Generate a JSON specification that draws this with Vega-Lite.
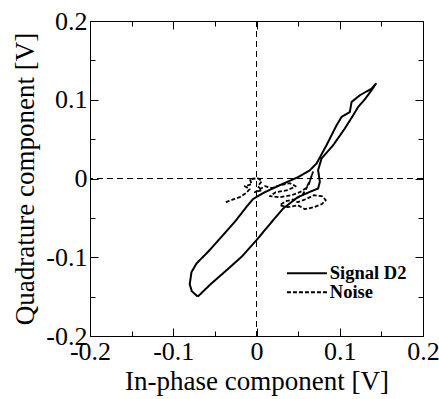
{
  "$schema": "https://vega.github.io/schema/vega-lite/v6.json",
  "width": 333,
  "height": 315,
  "autosize": {"type": "none"},
  "padding": {"left": 90, "top": 21, "right": 16, "bottom": 63},
  "background": "white",
  "view": {"stroke": "black", "strokeWidth": 1, "fill": null},
  "config": {
    "view": {"stroke": "black", "strokeWidth": 1},
    "font": "Liberation Serif",
    "axis": {
      "domain": false,
      "grid": false,
      "ticks": true,
      "tickSize": 8,
      "tickColor": "black",
      "tickWidth": 1,
      "labelFont": "Liberation Serif",
      "labelFontSize": 26,
      "labelColor": "black",
      "labelOverlap": false,
      "labelFlush": false,
      "labelBound": false,
      "titleFont": "Liberation Serif",
      "titleFontSize": 27,
      "titleFontWeight": "normal",
      "titleColor": "black"
    }
  },
  "datasets": {
    "curves": [
      {"series": "Signal D2", "i": 0, "x": -0.0706, "y": -0.150},
      {"series": "Signal D2", "i": 1, "x": -0.0778, "y": -0.1430},
      {"series": "Signal D2", "i": 2, "x": -0.0802, "y": -0.1341},
      {"series": "Signal D2", "i": 3, "x": -0.0781, "y": -0.1189},
      {"series": "Signal D2", "i": 4, "x": -0.0721, "y": -0.1079},
      {"series": "Signal D2", "i": 5, "x": -0.0582, "y": -0.0931},
      {"series": "Signal D2", "i": 6, "x": -0.0421, "y": -0.0741},
      {"series": "Signal D2", "i": 7, "x": -0.0261, "y": -0.0551},
      {"series": "Signal D2", "i": 8, "x": -0.0120, "y": -0.0360},
      {"series": "Signal D2", "i": 9, "x": -0.0044, "y": -0.0263},
      {"series": "Signal D2", "i": 10, "x": 0.0100, "y": -0.0174},
      {"series": "Signal D2", "i": 11, "x": 0.0280, "y": -0.0085},
      {"series": "Signal D2", "i": 12, "x": 0.0496, "y": 0.0016},
      {"series": "Signal D2", "i": 13, "x": 0.0641, "y": 0.0105},
      {"series": "Signal D2", "i": 14, "x": 0.0721, "y": 0.0190},
      {"series": "Signal D2", "i": 15, "x": 0.0841, "y": 0.0423},
      {"series": "Signal D2", "i": 16, "x": 0.0962, "y": 0.0676},
      {"series": "Signal D2", "i": 17, "x": 0.1022, "y": 0.0782},
      {"series": "Signal D2", "i": 18, "x": 0.1121, "y": 0.0845},
      {"series": "Signal D2", "i": 19, "x": 0.1142, "y": 0.0972},
      {"series": "Signal D2", "i": 20, "x": 0.1242, "y": 0.1057},
      {"series": "Signal D2", "i": 21, "x": 0.1382, "y": 0.1142},
      {"series": "Signal D2", "i": 22, "x": 0.1434, "y": 0.1203},
      {"series": "Signal D2", "i": 23, "x": 0.1382, "y": 0.1121},
      {"series": "Signal D2", "i": 24, "x": 0.1302, "y": 0.1006},
      {"series": "Signal D2", "i": 25, "x": 0.1221, "y": 0.0909},
      {"series": "Signal D2", "i": 26, "x": 0.1161, "y": 0.0803},
      {"series": "Signal D2", "i": 27, "x": 0.1061, "y": 0.0635},
      {"series": "Signal D2", "i": 28, "x": 0.0921, "y": 0.0423},
      {"series": "Signal D2", "i": 29, "x": 0.0781, "y": 0.0254},
      {"series": "Signal D2", "i": 30, "x": 0.0740, "y": 0.0105},
      {"series": "Signal D2", "i": 31, "x": 0.0761, "y": -0.0043},
      {"series": "Signal D2", "i": 32, "x": 0.0740, "y": -0.0127},
      {"series": "Signal D2", "i": 33, "x": 0.0641, "y": -0.0170},
      {"series": "Signal D2", "i": 34, "x": 0.0496, "y": -0.0237},
      {"series": "Signal D2", "i": 35, "x": 0.0320, "y": -0.0381},
      {"series": "Signal D2", "i": 36, "x": 0.0160, "y": -0.0580},
      {"series": "Signal D2", "i": 37, "x": 0.0000, "y": -0.0783},
      {"series": "Signal D2", "i": 38, "x": -0.0180, "y": -0.0995},
      {"series": "Signal D2", "i": 39, "x": -0.0381, "y": -0.1185},
      {"series": "Signal D2", "i": 40, "x": -0.0541, "y": -0.1332},
      {"series": "Signal D2", "i": 41, "x": -0.0706, "y": -0.150},
      {"series": "Noise", "i": 0, "x": -0.0369, "y": -0.0301},
      {"series": "Noise", "i": 1, "x": -0.0273, "y": -0.0263},
      {"series": "Noise", "i": 2, "x": -0.0201, "y": -0.0237},
      {"series": "Noise", "i": 3, "x": -0.0129, "y": -0.0187},
      {"series": "Noise", "i": 4, "x": -0.0081, "y": -0.0136},
      {"series": "Noise", "i": 5, "x": -0.0141, "y": -0.0098},
      {"series": "Noise", "i": 6, "x": -0.0056, "y": -0.0072},
      {"series": "Noise", "i": 7, "x": -0.0081, "y": -0.0009},
      {"series": "Noise", "i": 8, "x": 0.0016, "y": 0.0004},
      {"series": "Noise", "i": 9, "x": 0.0064, "y": -0.0034},
      {"series": "Noise", "i": 10, "x": 0.0016, "y": -0.0098},
      {"series": "Noise", "i": 11, "x": 0.0064, "y": -0.0148},
      {"series": "Noise", "i": 12, "x": -0.0020, "y": -0.0174},
      {"series": "Noise", "i": 13, "x": 0.0100, "y": -0.0098},
      {"series": "Noise", "i": 14, "x": 0.0184, "y": -0.0123},
      {"series": "Noise", "i": 15, "x": 0.0280, "y": -0.0085},
      {"series": "Noise", "i": 16, "x": 0.0400, "y": -0.0060},
      {"series": "Noise", "i": 17, "x": 0.0472, "y": -0.0098},
      {"series": "Noise", "i": 18, "x": 0.0376, "y": -0.0148},
      {"series": "Noise", "i": 19, "x": 0.0232, "y": -0.0174},
      {"series": "Noise", "i": 20, "x": 0.0160, "y": -0.0225},
      {"series": "Noise", "i": 21, "x": 0.0280, "y": -0.0237},
      {"series": "Noise", "i": 22, "x": 0.0424, "y": -0.0212},
      {"series": "Noise", "i": 23, "x": 0.0520, "y": -0.0174},
      {"series": "Noise", "i": 24, "x": 0.0593, "y": -0.0123},
      {"series": "Noise", "i": 25, "x": 0.0641, "y": -0.0034},
      {"series": "Noise", "i": 26, "x": 0.0677, "y": 0.0080},
      {"series": "Noise", "i": 27, "x": 0.0629, "y": -0.0072},
      {"series": "Noise", "i": 28, "x": 0.0557, "y": -0.0199},
      {"series": "Noise", "i": 29, "x": 0.0472, "y": -0.0263},
      {"series": "Noise", "i": 30, "x": 0.0352, "y": -0.0288},
      {"series": "Noise", "i": 31, "x": 0.0280, "y": -0.0339},
      {"series": "Noise", "i": 32, "x": 0.0376, "y": -0.0364},
      {"series": "Noise", "i": 33, "x": 0.0496, "y": -0.0339},
      {"series": "Noise", "i": 34, "x": 0.0581, "y": -0.0390},
      {"series": "Noise", "i": 35, "x": 0.0689, "y": -0.0364},
      {"series": "Noise", "i": 36, "x": 0.0785, "y": -0.0326},
      {"series": "Noise", "i": 37, "x": 0.0833, "y": -0.0275},
      {"series": "Noise", "i": 38, "x": 0.0785, "y": -0.0225},
      {"series": "Noise", "i": 39, "x": 0.0689, "y": -0.0212},
      {"series": "Noise", "i": 40, "x": 0.0593, "y": -0.0263},
      {"series": "Noise", "i": 41, "x": 0.0496, "y": -0.0301},
      {"series": "Noise", "i": 42, "x": 0.0424, "y": -0.0263}
    ]
  },
  "layer": [
    {
      "data": {"values": [{"z": 0}]},
      "mark": {"type": "rule", "color": "black", "strokeWidth": 1, "strokeDash": [6, 4]},
      "encoding": {
        "x": {
          "field": "z",
          "type": "quantitative",
          "scale": {"domain": [-0.2, 0.2], "nice": false, "zero": false},
          "axis": {
            "orient": "bottom",
            "title": "In-phase component [V]",
            "values": [-0.2, -0.15, -0.1, -0.05, 0, 0.05, 0.1, 0.15, 0.2],
            "labelExpr": "abs(datum.value*10-round(datum.value*10))<0.01 ? replace(format(datum.value,'.1~f'),'\u2212','-') : ''",
            "labelPadding": -6,
            "titlePadding": 4,
            "encoding": {"ticks": {"y2": {"condition": {"test": "abs(datum.value*10-round(datum.value*10))<0.01", "value": -8}, "value": -5}}}
          }
        }
      }
    },
    {
      "data": {"values": [{"z": 0}]},
      "mark": {"type": "rule", "color": "black", "strokeWidth": 1, "strokeDash": [6, 4]},
      "encoding": {
        "y": {
          "field": "z",
          "type": "quantitative",
          "scale": {"domain": [-0.2, 0.2], "nice": false, "zero": false},
          "axis": {
            "orient": "left",
            "title": "Quadrature component [V]",
            "values": [-0.2, -0.15, -0.1, -0.05, 0, 0.05, 0.1, 0.15, 0.2],
            "labelExpr": "abs(datum.value*10-round(datum.value*10))<0.01 ? replace(format(datum.value,'.1~f'),'\u2212','-') : ''",
            "labelPadding": -5,
            "titlePadding": 6,
            "encoding": {"ticks": {"x2": {"condition": {"test": "abs(datum.value*10-round(datum.value*10))<0.01", "value": 8}, "value": 5}}}
          }
        }
      }
    },
    {
      "data": {"name": "curves"},
      "mark": {"type": "line", "color": "black", "strokeJoin": "round"},
      "encoding": {
        "x": {
          "field": "x",
          "type": "quantitative",
          "scale": {"domain": [-0.2, 0.2], "nice": false, "zero": false},
          "axis": {
            "orient": "top",
            "title": null,
            "labels": false,
            "values": [-0.2, -0.15, -0.1, -0.05, 0, 0.05, 0.1, 0.15, 0.2],
            "encoding": {"ticks": {"y2": {"condition": {"test": "abs(datum.value*10-round(datum.value*10))<0.01", "value": 8}, "value": 5}}}
          }
        },
        "y": {
          "field": "y",
          "type": "quantitative",
          "scale": {"domain": [-0.2, 0.2], "nice": false, "zero": false},
          "axis": {
            "orient": "right",
            "title": null,
            "labels": false,
            "values": [-0.2, -0.15, -0.1, -0.05, 0, 0.05, 0.1, 0.15, 0.2],
            "encoding": {"ticks": {"x2": {"condition": {"test": "abs(datum.value*10-round(datum.value*10))<0.01", "value": -8}, "value": -5}}}
          }
        },
        "order": {"field": "i", "type": "quantitative"},
        "strokeDash": {
          "field": "series",
          "type": "nominal",
          "scale": {"domain": ["Signal D2", "Noise"], "range": [[1, 0], [4, 2]]},
          "legend": {
            "orient": "none",
            "legendX": 207.7,
            "legendY": 243,
            "title": null,
            "padding": 0,
            "symbolType": "M-4,0H4",
            "symbolSize": 100,
            "symbolStrokeColor": "black",
            "symbolStrokeWidth": 2,
            "labelOffset": 13.6,
            "labelFont": "Liberation Serif",
            "labelFontSize": 18.5,
            "labelFontWeight": "bold",
            "labelColor": "black",
            "rowPadding": 0
          }
        },
        "strokeWidth": {
          "field": "series",
          "type": "nominal",
          "scale": {"domain": ["Signal D2", "Noise"], "range": [2, 1.8]},
          "legend": null
        }
      }
    }
  ],
  "resolve": {"axis": {"x": "independent", "y": "independent"}}
}
